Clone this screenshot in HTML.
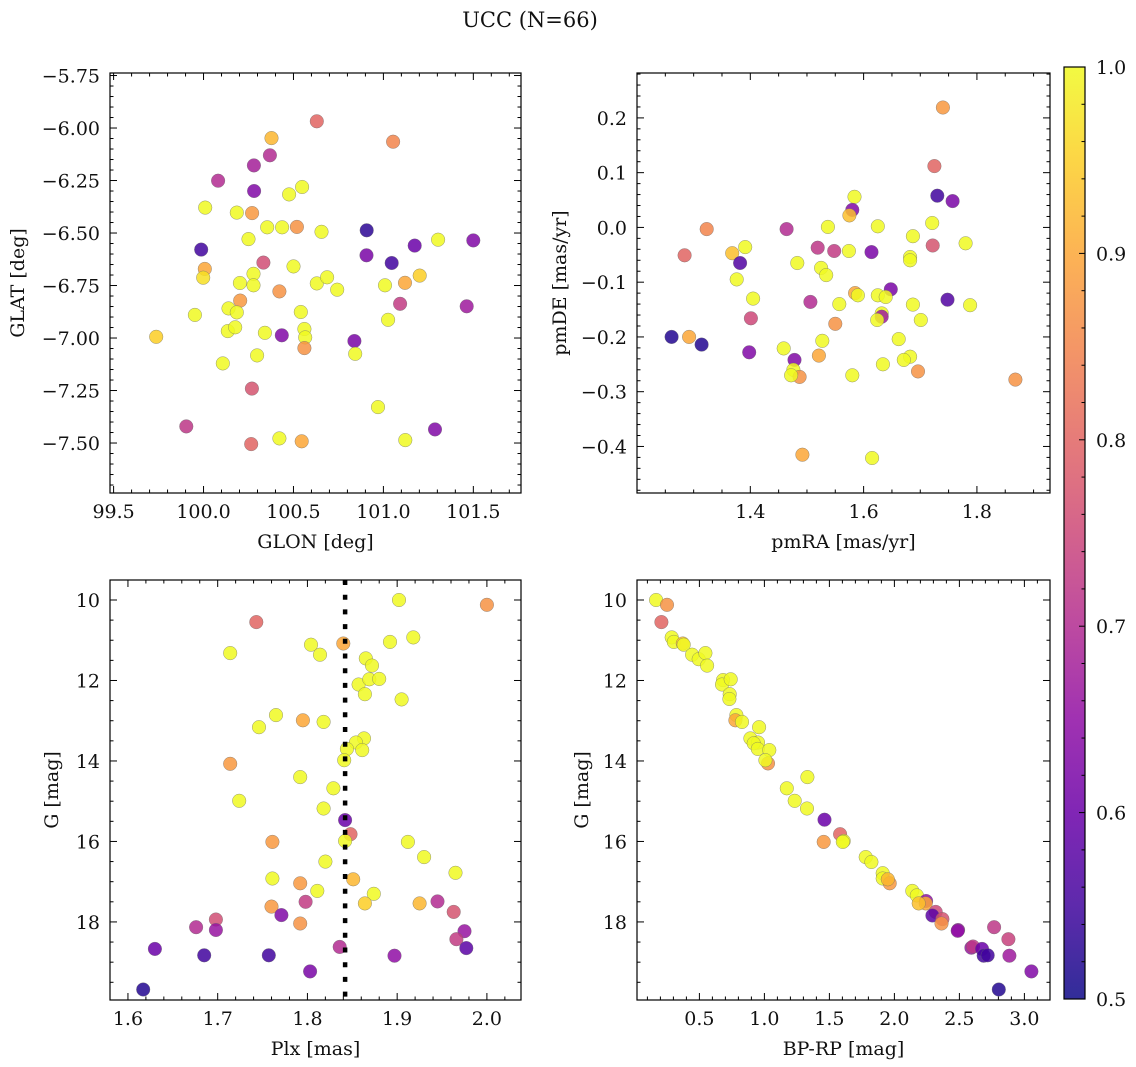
<!DOCTYPE html>
<html><head><meta charset="utf-8"><title>UCC (N=66)</title>
<style>
html,body{margin:0;padding:0;background:#fff;}
svg{display:block;font-family:"DejaVu Serif","Liberation Serif",serif;}
</style></head>
<body>
<svg id="fig" width="1136" height="1067" viewBox="0 0 1136 1067" xmlns="http://www.w3.org/2000/svg">
<rect width="1136" height="1067" fill="#fff"/>
<text x="530" y="27" text-anchor="middle" font-size="21" fill="#111">UCC (N=66)</text>
</svg>
<script>
// ---- Panel 1 data (GLON/GLAT) ----
const glon=[100.630,100.378,101.054,100.369,100.280,100.081,100.281,100.548,100.476,100.009,100.185,100.270,100.354,100.437,100.519,100.656,100.907,100.250,101.304,101.500,99.987,101.174,100.906,101.046,100.333,100.007,99.998,100.500,100.278,100.202,100.278,100.630,100.687,101.202,101.009,101.120,100.743,100.422,100.204,101.093,101.463,99.952,100.139,100.185,100.541,101.026,99.737,100.135,100.176,100.341,100.435,100.561,100.565,100.561,100.839,100.843,100.298,100.107,100.269,100.970,99.904,101.287,100.422,100.265,100.546,101.122];
const glat=[-5.968,-6.048,-6.065,-6.130,-6.178,-6.251,-6.300,-6.281,-6.316,-6.379,-6.403,-6.405,-6.473,-6.473,-6.471,-6.494,-6.487,-6.529,-6.532,-6.535,-6.579,-6.560,-6.606,-6.643,-6.641,-6.671,-6.713,-6.659,-6.694,-6.738,-6.749,-6.740,-6.711,-6.703,-6.749,-6.737,-6.770,-6.778,-6.822,-6.837,-6.849,-6.890,-6.859,-6.878,-6.876,-6.913,-6.994,-6.967,-6.949,-6.975,-6.987,-6.957,-6.997,-7.048,-7.014,-7.075,-7.083,-7.121,-7.241,-7.329,-7.421,-7.435,-7.478,-7.505,-7.492,-7.486];
const p1Prob=[0.8,0.92,0.85,0.7,0.68,0.7,0.63,1,1,1,1,0.88,1,1,0.87,1,0.53,1,1,0.63,0.55,0.6,0.62,0.55,0.76,0.9,0.97,1,1,1,1,1,1,0.95,1,0.9,1,0.87,0.88,0.73,0.67,1,1,1,1,1,0.95,1,1,1,0.63,1,1,0.87,0.62,1,1,1,0.77,1,0.72,0.63,1,0.8,0.9,1];
// ---- Panel 2 data (pmRA/pmDE) ----
const pmra=[1.740,1.725,1.730,1.757,1.584,1.580,1.575,1.323,1.464,1.537,1.625,1.721,1.687,1.284,1.391,1.368,1.382,1.519,1.548,1.574,1.614,1.722,1.780,1.682,1.682,1.483,1.525,1.534,1.376,1.405,1.648,1.585,1.590,1.625,1.639,1.748,1.506,1.557,1.687,1.788,1.401,1.632,1.632,1.624,1.701,1.550,1.261,1.292,1.314,1.398,1.459,1.527,1.662,1.478,1.521,1.682,1.671,1.634,1.696,1.476,1.487,1.472,1.580,1.868,1.492,1.615];
const pmde=[0.219,0.112,0.058,0.048,0.056,0.032,0.022,-0.003,-0.003,0.001,0.002,0.008,-0.016,-0.051,-0.036,-0.047,-0.065,-0.037,-0.043,-0.043,-0.045,-0.033,-0.029,-0.054,-0.060,-0.065,-0.074,-0.087,-0.095,-0.130,-0.113,-0.120,-0.124,-0.124,-0.127,-0.132,-0.136,-0.140,-0.141,-0.142,-0.166,-0.157,-0.163,-0.169,-0.169,-0.176,-0.200,-0.200,-0.214,-0.228,-0.221,-0.207,-0.204,-0.242,-0.234,-0.236,-0.242,-0.250,-0.263,-0.260,-0.273,-0.270,-0.270,-0.278,-0.415,-0.421];
const p2Prob=[0.88,0.8,0.55,0.62,1,0.63,0.93,0.85,0.7,1,1,1,1,0.8,1,0.93,0.57,0.72,0.73,1,0.62,0.77,1,1,1,1,1,1,1,1,0.62,0.9,1,1,1,0.57,0.7,1,1,1,0.75,1,0.67,1,1,0.87,0.52,0.9,0.52,0.63,1,1,1,0.63,0.9,1,1,1,0.87,1,0.87,1,1,0.87,0.9,1];
// ---- Panel 3 data (Plx/G) ----
const plx=[1.902,2.000,1.743,1.714,1.804,1.814,1.840,1.892,1.918,1.865,1.872,1.857,1.869,1.880,1.864,1.905,1.765,1.746,1.795,1.818,1.863,1.854,1.844,1.861,1.841,1.714,1.792,1.829,1.724,1.818,1.842,1.848,1.842,1.761,1.912,1.930,1.820,1.965,1.761,1.851,1.792,1.811,1.874,1.798,1.760,1.864,1.925,1.945,1.963,1.771,1.698,1.676,1.698,1.792,1.975,1.966,1.630,1.685,1.757,1.836,1.897,1.977,1.803,1.617];
const gmag3=[10.00,10.12,10.55,11.32,11.11,11.36,11.08,11.04,10.93,11.45,11.63,12.10,11.97,11.96,12.34,12.47,12.86,13.16,12.99,13.03,13.44,13.54,13.70,13.73,13.98,14.07,14.40,14.68,14.99,15.18,15.47,15.82,15.99,16.01,16.01,16.39,16.50,16.78,16.92,16.94,17.04,17.23,17.30,17.50,17.62,17.54,17.54,17.49,17.75,17.83,17.94,18.13,18.20,18.04,18.23,18.43,18.67,18.83,18.83,18.62,18.84,18.65,19.23,19.68];
const p3Prob=[1,0.87,0.8,1,1,1,0.9,1,1,1,1,1,1,1,1,1,1,1,0.9,1,1,1,1,1,1,0.88,1,1,1,1,0.6,0.8,1,0.88,1,1,1,1,1,0.92,0.88,1,1,0.73,0.88,0.95,0.92,0.7,0.77,0.63,0.76,0.7,0.66,0.87,0.66,0.73,0.6,0.55,0.55,0.7,0.65,0.58,0.62,0.52];
const plxMedian=[1.842];
// ---- Panel 4 data (BP-RP/G) ----
const bprp=[0.167,0.251,0.208,0.287,0.303,0.372,0.379,0.444,0.495,0.546,0.559,0.682,0.674,0.741,0.733,0.731,0.785,0.777,0.828,0.959,0.892,0.951,0.918,0.949,1.038,1.028,1.008,1.331,1.172,1.233,1.328,1.462,1.582,1.610,1.456,1.603,1.779,1.823,1.910,1.910,1.964,1.949,2.138,2.172,2.244,2.241,2.187,2.318,2.292,2.369,2.362,2.490,2.487,2.767,2.592,2.605,2.877,2.674,2.687,2.718,2.885,3.054,2.803];
const gmag4=[10.00,10.12,10.55,10.93,11.04,11.08,11.11,11.36,11.47,11.32,11.63,11.99,12.10,11.97,12.34,12.46,12.86,12.99,13.03,13.16,13.44,13.54,13.56,13.70,13.73,14.06,13.98,14.40,14.68,14.99,15.18,15.46,15.82,15.99,16.01,16.01,16.39,16.51,16.79,16.92,17.04,16.94,17.23,17.34,17.48,17.54,17.54,17.75,17.84,17.93,18.04,18.20,18.22,18.13,18.64,18.61,18.43,18.67,18.84,18.83,18.84,19.23,19.68];
const p4Prob=[1,0.87,0.8,1,1,0.93,1,1,1,1,1,1,1,1,1,1,1,0.9,1,1,1,1,1,1,1,0.87,1,1,1,1,1,0.6,0.8,1,0.88,1,1,1,1,1,0.88,0.92,1,1,0.65,0.9,0.93,0.75,0.58,0.77,0.87,0.66,0.65,0.72,0.66,0.72,0.74,0.6,0.55,0.55,0.67,0.63,0.52];
// ---- Tick labels ----
const p1XTicks=[99.5,100.0,100.5,101.0,101.5];
const p1YTicks=[-7.5,-7.25,-7.0,-6.75,-6.5,-6.25,-6.0,-5.75];
const p2XTicks=[1.4,1.6,1.8];
const p2YTicks=[-0.4,-0.3,-0.2,-0.1,0.0,0.1,0.2];
const p3XTicks=[1.6,1.7,1.8,1.9,2.0];
const gTicks=[10,12,14,16,18];
const p4XTicks=[0.5,1.0,1.5,2.0,2.5,3.0];
const cbTicks=[0.5,0.6,0.7,0.8,0.9,1.0];

const NS="http://www.w3.org/2000/svg";
const svg=document.getElementById('fig');
const FS=19;
function mk(tag,attrs,parent){const e=document.createElementNS(NS,tag);for(const k in attrs)e.setAttribute(k,attrs[k]);(parent||svg).appendChild(e);return e;}
const stops=[[13,8,135],[65,4,157],[106,0,168],[143,13,164],[177,42,144],[204,71,120],[225,100,98],[242,132,75],[252,166,54],[252,206,37],[240,249,33]];
function plasma(t){t=Math.max(0,Math.min(1,t))*10;const i=Math.min(9,Math.floor(t)),f=t-i;const a=stops[i],b=stops[i+1];return 'rgb('+[0,1,2].map(k=>Math.round(a[k]+(b[k]-a[k])*f)).join(',')+')';}
function norm(v){return (v-0.5)/0.5;}
function fmt(v,d){const s=Math.abs(v).toFixed(d);return (v<-1e-9?'\u2212':'')+s;}

function panel(cfg){
  const g=mk('g',{});
  
  
  const X=v=>cfg.x0+(v-cfg.xd[0])/(cfg.xd[1]-cfg.xd[0])*(cfg.x1-cfg.x0);
  const Y=v=>cfg.y1-(v-cfg.yd[0])/(cfg.yd[1]-cfg.yd[0])*(cfg.y1-cfg.y0);
  const pg=mk('g',{},g);
  
  
  for(let i=0;i<cfg.xs.length;i++){
    const c=mk('circle',{cx:X(cfg.xs[i]).toFixed(1),cy:Y(cfg.ys[i]).toFixed(1),r:6.8,fill:plasma(norm(cfg.ps[i])),'fill-opacity':0.85,stroke:'#6b6b6b','stroke-width':0.5,'stroke-opacity':0.7},pg);
    
    
  }
  if(cfg.vline){
    const l=mk('line',{x1:X(cfg.vline[0]),x2:X(cfg.vline[0]),y1:cfg.y0,y2:cfg.y1,stroke:'#000','stroke-width':4.5,'stroke-dasharray':'5 9.7'},g);
    
    
  }
  const tg=mk('g',{stroke:'#000','stroke-width':1},g);
  const eps=1e-6;
  const xmin=Math.min(...cfg.xd),xmax=Math.max(...cfg.xd),ymin=Math.min(...cfg.yd),ymax=Math.max(...cfg.yd);
  for(let v=Math.ceil(xmin/cfg.xm-eps)*cfg.xm;v<=xmax+eps;v+=cfg.xm){const px=X(v);const major=cfg.xt.some(t=>Math.abs(t-v)<cfg.xm/3);const L=major?7:3.5;
    mk('line',{x1:px,x2:px,y1:cfg.y1,y2:cfg.y1-L},tg);mk('line',{x1:px,x2:px,y1:cfg.y0,y2:cfg.y0+L},tg);}
  for(let v=Math.ceil(ymin/cfg.ym-eps)*cfg.ym;v<=ymax+eps;v+=cfg.ym){const py=Y(v);const major=cfg.yt.some(t=>Math.abs(t-v)<cfg.ym/3);const L=major?7:3.5;
    mk('line',{y1:py,y2:py,x1:cfg.x0,x2:cfg.x0+L},tg);mk('line',{y1:py,y2:py,x1:cfg.x1,x2:cfg.x1-L},tg);}
  mk('rect',{x:cfg.x0,y:cfg.y0,width:cfg.x1-cfg.x0,height:cfg.y1-cfg.y0,fill:'none',stroke:'#000','stroke-width':1.2},g);
  cfg.xt.forEach(v=>{const t=mk('text',{x:X(v),y:cfg.y1+25,'text-anchor':'middle','font-size':FS,fill:'#111'},g);t.textContent=fmt(v,cfg.xdp);
    });
  cfg.yt.forEach(v=>{const t=mk('text',{x:cfg.x0-10,y:Y(v)+7,'text-anchor':'end','font-size':FS,fill:'#111'},g);t.textContent=fmt(v,cfg.ydp);
    });
  const xl=mk('text',{x:(cfg.x0+cfg.x1)/2,y:cfg.y1+55,'text-anchor':'middle','font-size':FS,fill:'#111'},g);xl.textContent=cfg.xlab;
  
  const yc=(cfg.y0+cfg.y1)/2;
  const yl=mk('text',{x:cfg.ylx,y:yc,'text-anchor':'middle','font-size':FS,fill:'#111',transform:'rotate(-90 '+cfg.ylx+' '+yc+')'},g);yl.textContent=cfg.ylab;
  
}

panel({name:'glon-glat-panel',x0:110,x1:521,y0:73,y1:493,xd:[99.48,101.765],yd:[-7.738,-5.738],xs:glon,ys:glat,ps:p1Prob,xt:p1XTicks,yt:p1YTicks,xm:0.1,ym:0.05,xdp:1,ydp:2,xlab:'GLON [deg]',ylab:'GLAT [deg]',ylx:24});
panel({name:'pm-panel',x0:637,x1:1050,y0:73,y1:493,xd:[1.2,1.929],yd:[-0.485,0.282],xs:pmra,ys:pmde,ps:p2Prob,xt:p2XTicks,yt:p2YTicks,xm:0.05,ym:0.02,xdp:1,ydp:1,xlab:'pmRA [mas/yr]',ylab:'pmDE [mas/yr]',ylx:566});
panel({name:'plx-g-panel',x0:110,x1:521,y0:580,y1:1000,xd:[1.580,2.038],yd:[19.94,9.503],xs:plx,ys:gmag3,ps:p3Prob,xt:p3XTicks,yt:gTicks,xm:0.02,ym:0.5,xdp:1,ydp:0,xlab:'Plx [mas]',ylab:'G [mag]',ylx:58,vline:plxMedian});
panel({name:'cmd-panel',x0:637,x1:1050,y0:580,y1:1000,xd:[0.02,3.197],yd:[19.94,9.503],xs:bprp,ys:gmag4,ps:p4Prob,xt:p4XTicks,yt:gTicks,xm:0.1,ym:0.5,xdp:1,ydp:0,xlab:'BP-RP [mag]',ylab:'G [mag]',ylx:588});

(function(){
  const cx0=1064,cx1=1085,cy0=67,cy1=999;
  const cg=mk('g',{});
  
  
  const defs=mk('defs',{},cg);
  const lg=mk('linearGradient',{id:'cbg',x1:0,y1:1,x2:0,y2:0},defs);
  for(let i=0;i<=20;i++){mk('stop',{offset:(i/20),'stop-color':plasma(i/20),'stop-opacity':0.85},lg);}
  mk('rect',{x:cx0,y:cy0,width:cx1-cx0,height:cy1-cy0,fill:'url(#cbg)',stroke:'#000','stroke-width':1.2},cg);
  const Yc=v=>cy1-(v-0.5)/0.5*(cy1-cy0);
  for(let k=0;k<=25;k++){const v=0.5+k*0.02;const major=(k%5===0);const py=Yc(v);
    mk('line',{x1:cx1,x2:cx1-(major?6:3.5),y1:py,y2:py,stroke:'#000','stroke-width':1},cg);}
  cbTicks.forEach(v=>{const t=mk('text',{x:1096,y:Yc(v)+7,'font-size':FS,fill:'#111'},cg);t.textContent=v.toFixed(1);
    });
})();
</script>
</body></html>
